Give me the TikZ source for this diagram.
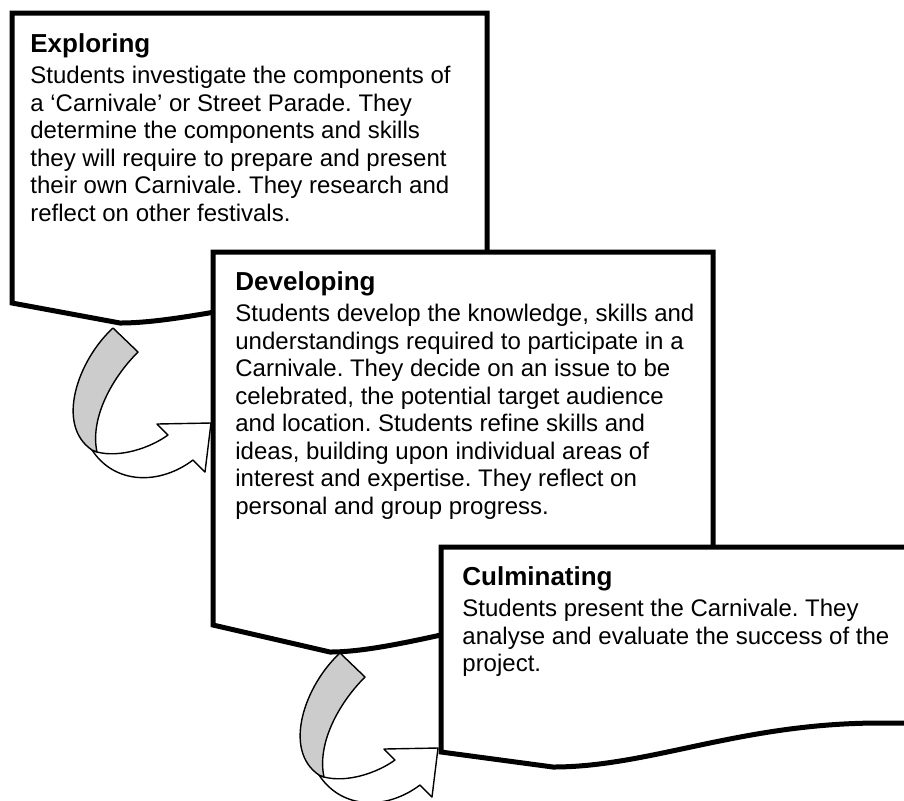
\documentclass[tikz,border=0pt]{standalone}
\usepackage{fontspec}
\setmainfont{Liberation Sans}
\frenchspacing
\newcommand{\stagehead}[1]{{\fontsize{13}{15}\selectfont\bfseries #1}}
\tikzset{
  stage/.style={draw=black,line width=2.5pt,fill=white},
  stagetext/.style={anchor=north west,inner sep=0pt,align=left,
    font=\fontsize{12}{13.75}\selectfont},
  arrowline/.style={draw=black,line width=0.7pt,line join=round},
  turnarrow/.pic={
    % front band and head
    \draw[arrowline,fill=white] (-16,124) .. controls (7,130) and (37,120) .. (55,107)
      -- (44,96) -- (98,95) -- (92,144) -- (80,132)
      .. controls (47,157) and (2,157) .. (-21,122) -- cycle;
    % back band, shaded
    \draw[arrowline,fill=black!20] (0,0) .. controls (-35,32) and (-58,97) .. (-21,122)
      -- (-16,124) .. controls (-23,92) and (-3,52) .. (25,24) -- cycle;
  },
}

\begin{document}
\begin{tikzpicture}[x=0.5pt,y=-0.5pt]
\useasboundingbox (0,0) rectangle (904,800);
\clip (0,0) rectangle (904,800);

% the three stages, each a page with a wavy foot
\draw[stage] (12,13) -- (487,13) -- (487,270) .. controls (300,290) and (190,323) .. (120,323)
  -- (12,303) -- cycle;
\node[stagetext] (explore) at (30,33.5) {\stagehead{Exploring}\\[1.75pt]
  Students investigate the components of\\
  a `Carnivale' or Street Parade. They\\
  determine the components and skills\\
  they will require to prepare and present\\
  their own Carnivale. They research and\\
  reflect on other festivals.};

\draw[stage] (213,252) -- (713,252) -- (713,580) .. controls (520,610) and (400,652) .. (330,652)
  -- (213,625) -- cycle;
\node[stagetext] (develop) at (235,271.5) {\stagehead{Developing}\\[1.75pt]
  Students develop the knowledge, skills and\\
  understandings required to participate in a\\
  Carnivale. They decide on an issue to be\\
  celebrated, the potential target audience\\
  and location. Students refine skills and\\
  ideas, building upon individual areas of\\
  interest and expertise. They reflect on\\
  personal and group progress.};

\draw[stage] (441,547) -- (930,547) -- (930,723) -- (880,723) .. controls (740,723) and (650,767) .. (553,767)
  -- (441,752) -- cycle;
\node[stagetext] (culminate) at (462,566.5) {\stagehead{Culminating}\\[1.75pt]
  Students present the Carnivale. They\\
  analyse and evaluate the success of the\\
  project.};

% turning arrows from one stage into the next
\coordinate (explore-foot) at (113,328);
\coordinate (develop-foot) at (340,653);
\pic at (explore-foot) {turnarrow};
\pic at (develop-foot) {turnarrow};
\end{tikzpicture}
\end{document}
